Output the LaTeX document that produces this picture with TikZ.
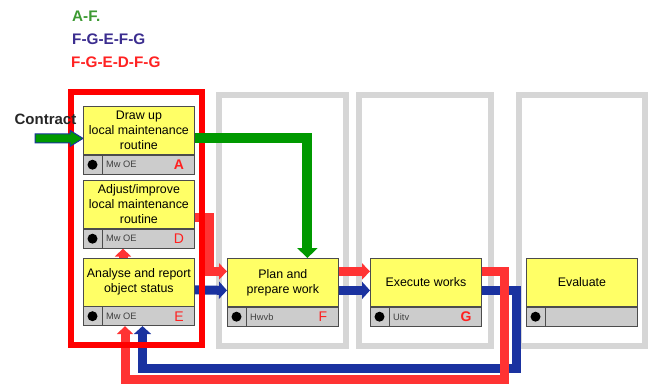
\documentclass[tikz,border=0pt]{standalone}
\usepackage{fontspec}
\setmainfont{Liberation Sans}
\usetikzlibrary{arrows.meta,calc,backgrounds}
\definecolor{ylw}{HTML}{FFFF66}
\definecolor{barg}{HTML}{CCCCCC}
\definecolor{frameg}{HTML}{D6D6D6}
\definecolor{conred}{HTML}{FF3333}
\definecolor{conblue}{HTML}{1A32A0}
\definecolor{congreen}{HTML}{009900}
\definecolor{ttlgreen}{HTML}{3C9A32}
\definecolor{ttlblue}{HTML}{3B2D8F}
\definecolor{ttlred}{HTML}{FF2222}
\definecolor{lettred}{HTML}{FF2020}
\definecolor{framered}{HTML}{FF0000}
\newcommand{\mkproc}[7]{%
  \node[ybox] (#1) at (#2,#3) {#4};
  \node[gbar] (#1b) at (#1.south west) {};
  \draw[divline] ([xshift=19pt]#1b.north west) -- ([xshift=19pt]#1b.south west);
  \node[dotmark] (#1d) at ([xshift=9.5pt]#1b.west) {};
  \node[smalllbl] (#1l) at ([xshift=23pt]#1b.west) {#5};
  \node[lettr] (#1t) at ([xshift=96pt]#1b.west) {#6#7};
}
\begin{document}
\begin{tikzpicture}[x=1pt,y=-1pt,
  ybox/.style={draw=black!70, line width=0.8pt, fill=ylw, minimum width=111pt,
    minimum height=48pt, anchor=north west, inner sep=0pt, align=center,
    font=\fontsize{12.4}{15}\selectfont},
  gbar/.style={draw=black!70, line width=0.8pt, fill=barg, minimum width=111pt,
    minimum height=19pt, anchor=north west, inner sep=0pt},
  divline/.style={draw=black!70, line width=0.8pt},
  dotmark/.style={circle, fill=black, minimum size=10pt, inner sep=0pt},
  smalllbl/.style={anchor=west, inner sep=0pt, font=\fontsize{9.3}{10}\selectfont, text=black!75},
  lettr/.style={inner sep=0pt, font=\fontsize{14}{14}\selectfont, text=lettred},
  colframe/.style={draw=frameg, line width=6pt},
  redframe/.style={draw=framered, line width=6pt},
  redconn/.style={draw=conred, line width=9pt, -{Triangle[length=8pt,width=16pt]}},
  blueconn/.style={draw=conblue, line width=9pt, -{Triangle[length=8pt,width=17pt]}},
  greenconn/.style={draw=congreen, line width=10pt, -{Triangle[length=10pt,width=20pt]}},
  ttl/.style={anchor=west, inner sep=0pt, font=\fontsize{15.3}{16}\selectfont\bfseries}
]
\useasboundingbox (0,0) rectangle (653,385);
% titles
\node[ttl, text=ttlgreen] (t1) at (72,16) {A-F.};
\node[ttl, text=ttlblue] (t2) at (72,39) {F-G-E-F-G};
\node[ttl, text=ttlred] (t3) at (71,62.5) {F-G-E-D-F-G};
% process boxes
\mkproc{A}{83}{106}{Draw up\\local maintenance\\routine}{Mw OE}{\bfseries}{A}
\mkproc{D}{83}{180}{Adjust/improve\\local maintenance\\routine}{Mw OE}{}{D}
\mkproc{E}{83}{257.5}{Analyse and report\\object status}{Mw OE}{}{E}
\mkproc{F}{227}{258}{Plan and\\prepare work}{Hwvb}{}{F}
\mkproc{G}{370}{258}{Execute works}{Uitv}{\bfseries}{G}
\mkproc{V}{526}{258}{Evaluate}{}{}{}
% contract input
\node[inner sep=0pt, font=\fontsize{15}{16}\selectfont\bfseries, text=black!85] (ct) at (45.5,119) {Contract};
\begin{scope}[on background layer]
  % column frames
  \draw[colframe] (219,95) rectangle (346,346);
  \draw[colframe] (359,95) rectangle (491,346);
  \draw[colframe] (519,95) rectangle (645,346);
  % blue loop
  \draw[blueconn] ([yshift=-8pt]F.east) -- ([yshift=-8pt]G.west);
  \draw[blueconn] ([yshift=-8pt]E.east) -- ([yshift=-8pt]F.west);
  \draw[blueconn] ([yshift=-8pt]G.east) -| (516.5,368) -| ([xshift=59.5pt]Eb.south west);
  % red loop
  \draw[redconn] ([yshift=11pt]F.east) -- ([yshift=11pt]G.west);
  \draw[redconn] ([yshift=11pt]G.east) -| (504.5,379) -| ([xshift=42pt]Eb.south west);
  \draw[redconn] ([xshift=40pt]E.north west) -- ([xshift=40pt]Db.south west);
  \draw[redconn] ([yshift=-13.5pt]D.east) -- ++(14.5,0) |- ([yshift=11pt]F.west);
  % red frame of the first column
  \draw[redframe] (71,92) rectangle (201.5,344.5);
  % green
  \draw[greenconn] ([yshift=-8pt]A.east) -| ([xshift=24.5pt]F.north);
  \coordinate (ctip) at ([yshift=-8pt]A.west);
  \filldraw[fill=congreen, draw=conblue, line width=1pt]
    ($(ctip)+(-48,-4.5)$) -- ($(ctip)+(-13,-4.5)$) -- ($(ctip)+(-13,-8)$) -- (ctip)
    -- ($(ctip)+(-13,8)$) -- ($(ctip)+(-13,4.5)$) -- ($(ctip)+(-48,4.5)$) -- cycle;
\end{scope}
\end{tikzpicture}
\end{document}
